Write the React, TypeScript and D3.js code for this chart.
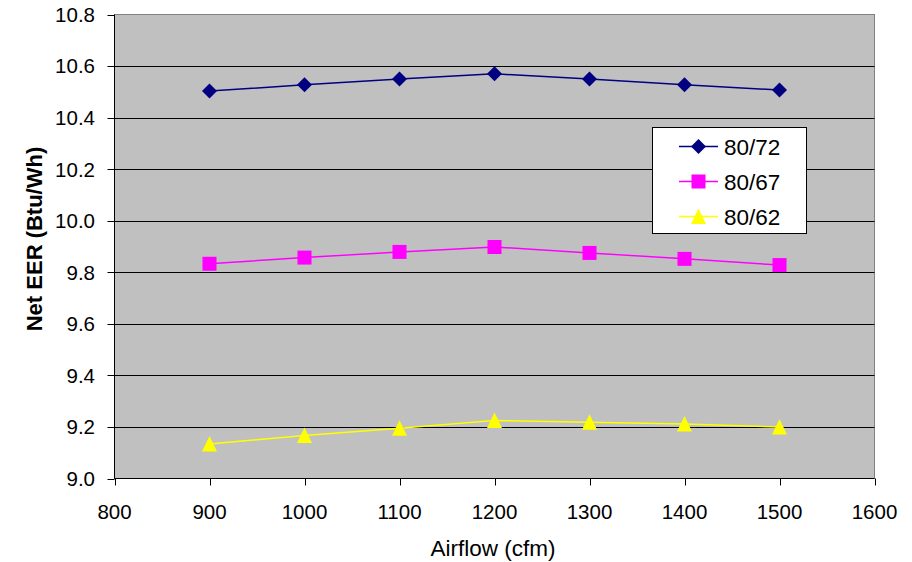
import React from "react";
import * as d3 from "d3";

const airflow = [900, 1000, 1100, 1200, 1300, 1400, 1500];
const s8072 = [10.503, 10.527, 10.55, 10.57, 10.55, 10.527, 10.507];
const s8067 = [9.833, 9.857, 9.879, 9.898, 9.875, 9.852, 9.828];
const s8062 = [9.134, 9.167, 9.195, 9.225, 9.218, 9.211, 9.2];
const seriesNames = ["80/72", "80/67", "80/62"];
const xTicks = [800, 900, 1000, 1100, 1200, 1300, 1400, 1500, 1600];
const yTicks = [9.0, 9.2, 9.4, 9.6, 9.8, 10.0, 10.2, 10.4, 10.6, 10.8];

const W = 912;
const H = 562;
const L = 114.5, R = 874.5, T = 14.5, B = 478.5;
const FONT = "'Liberation Sans', Arial, sans-serif";

const colors = ["#000080", "#FF00FF", "#FFFF00"];
const shapes = [d3.symbolDiamond, d3.symbolSquare, d3.symbolTriangle];

function Marker({ idx, x, y }: { idx: number; x: number; y: number }) {
  let d = "";
  if (idx === 0) d = `M${x},${y - 7.5}L${x + 7.5},${y}L${x},${y + 7.5}L${x - 7.5},${y}Z`;
  else if (idx === 1) d = `M${x - 7},${y - 7}h14v14h-14Z`;
  else d = `M${x},${y - 8}L${x + 7.5},${y + 7.5}L${x - 7.5},${y + 7.5}Z`;
  return <path d={d} fill={colors[idx]} />;
}

export default function App() {
  const x = d3.scaleLinear().domain([800, 1600]).range([L, R]);
  const y = d3.scaleLinear().domain([9.0, 10.8]).range([B, T]);
  const data = [s8072, s8067, s8062];
  const line = d3
    .line<number>()
    .x((_, i) => x(airflow[i]))
    .y((v) => y(v));

  return (
    <svg
      width={W}
      height={H}
      style={{ position: "absolute", left: 0, top: 0, background: "#fff" }}
      fontFamily={FONT}
    >
      <rect x={L} y={T} width={R - L} height={B - T} fill="#C0C0C0" stroke="#808080" strokeWidth={1} />
      {yTicks.slice(1, -1).map((t) => (
        <line key={t} x1={L} x2={R} y1={Math.round(y(t)) + 0.5} y2={Math.round(y(t)) + 0.5} stroke="#000" strokeWidth={1} />
      ))}
      {/* axes */}
      <line x1={L} x2={L} y1={T} y2={B} stroke="#000" />
      <line x1={L} x2={R} y1={B} y2={B} stroke="#000" />
      {yTicks.map((t) => (
        <g key={t}>
          <line x1={L - 7} x2={L} y1={Math.round(y(t)) + 0.5} y2={Math.round(y(t)) + 0.5} stroke="#000" />
          <text x={95} y={y(t)} dy="0.36em" textAnchor="end" fontSize={20.5} fill="#000">
            {t.toFixed(1)}
          </text>
        </g>
      ))}
      {xTicks.map((t) => (
        <g key={t}>
          <line x1={Math.round(x(t)) + 0.5} x2={Math.round(x(t)) + 0.5} y1={B} y2={B + 7} stroke="#000" />
          <text x={x(t)} y={519} textAnchor="middle" fontSize={20.5} fill="#000">
            {t}
          </text>
        </g>
      ))}
      {data.map((s, i) => (
        <g key={i}>
          <path d={line(s) || ""} fill="none" stroke={colors[i]} strokeWidth={1.5} />
          {s.map((v, j) => (
            <Marker key={j} idx={i} x={x(airflow[j])} y={y(v)} />
          ))}
        </g>
      ))}
      {/* legend */}
      <rect x={652.5} y={127.5} width={154} height={106} fill="#fff" stroke="#000" strokeWidth={1} />
      {seriesNames.map((n, i) => {
        const ly = 146.5 + i * 35;
        return (
          <g key={n}>
            <line x1={679} x2={718} y1={ly} y2={ly} stroke={colors[i]} strokeWidth={1.5} />
            <Marker idx={i} x={698.5} y={ly} />
            <text x={724} y={ly} dy="0.36em" fontSize={22.5} fill="#000">
              {n}
            </text>
          </g>
        );
      })}
      <text
        transform={`translate(34,239) rotate(-90)`}
        textAnchor="middle"
        dy="0.36em"
        fontSize={22}
        fontWeight="bold"
        fill="#000"
      >
        Net EER (Btu/Wh)
      </text>
      <text x={493} y={556} textAnchor="middle" fontSize={22.5} fill="#000">
        Airflow (cfm)
      </text>
    </svg>
  );
}
